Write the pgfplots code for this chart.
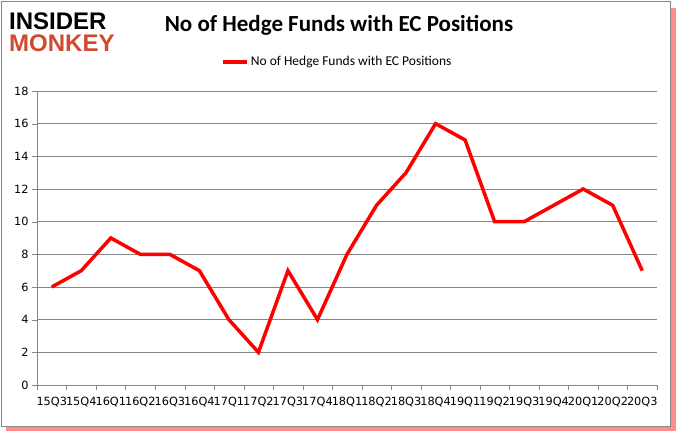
\documentclass[border=0pt]{standalone}
\usepackage{pgfplots}
\pgfplotsset{compat=1.18}
\usepackage{fontspec}
\setmainfont{Liberation Sans}
\newfontfamily\titlefont{Carlito}
\newfontfamily\tickfont{DejaVu Sans}
\definecolor{monkeyred}{RGB}{208,74,48}
\definecolor{gridgray}{RGB}{134,134,134}
\begin{document}
\begin{tikzpicture}
\useasboundingbox (0pt,0pt) rectangle (677pt,431pt);
% frame and shadow
\fill[red!45] (6pt,0pt) rectangle (676pt,423pt);
\fill[white,draw=gridgray,line width=0.8pt] (1pt,5pt) rectangle (670pt,430pt);
% logo
\node[anchor=south west,font=\bfseries\fontsize{24}{24}\selectfont,inner sep=0,text height=17pt,text depth=0pt] at (9pt,401pt) {INSIDER};
\node[anchor=south west,font=\bfseries\fontsize{24}{24}\selectfont,text=monkeyred,inner sep=0,text height=17pt,text depth=0pt] at (9pt,379pt) {MONKEY};
% title
\node[font=\titlefont\bfseries\fontsize{23}{26}\selectfont] at (339pt,406pt) {No of Hedge Funds with EC Positions};
\begin{axis}[
  at={(37pt,46pt)}, anchor=south west,
  scale only axis, width=620pt, height=294pt,
  xmin=-0.5, xmax=20.5, ymin=0, ymax=18,
  axis lines=left, axis line style={-,gridgray},
  xtick={0,...,20},
  xticklabels={15Q3,15Q4,16Q1,16Q2,16Q3,16Q4,17Q1,17Q2,17Q3,17Q4,18Q1,18Q2,18Q3,18Q4,19Q1,19Q2,19Q3,19Q4,20Q1,20Q2,20Q3},
  major x tick style={draw=none},
  minor xtick={-0.5,0.5,...,20.5},
  minor x tick style={gridgray},
  minor tick length=5pt,
  ytick={0,2,...,18},
  y tick style={gridgray},
  major tick length=5pt,
  tick align=outside,
  ymajorgrids, grid style={gridgray, line width=0.8pt},
  ticklabel style={font=\tickfont\fontsize{11.3}{13}\selectfont, text=black},
  xticklabel style={inner sep=0pt, yshift=-7pt},
  /pgf/number format/assume math mode=true,
  legend style={at={(0.484,1.099)}, anchor=center, draw=none, fill=none,
    font=\titlefont\fontsize{13.5}{15}\selectfont},
  legend image code/.code={\draw[#1,line width=4pt] (0,0) -- (0.85cm,0);},
]
\addplot[red, line width=3.5pt, line join=miter] coordinates {
(0,6) (1,7) (2,9) (3,8) (4,8) (5,7) (6,4) (7,2) (8,7) (9,4) (10,8)
(11,11) (12,13) (13,16) (14,15) (15,10) (16,10) (17,11) (18,12) (19,11) (20,7)};
\addlegendentry{No of Hedge Funds with EC Positions}
\end{axis}
\end{tikzpicture}
\end{document}
